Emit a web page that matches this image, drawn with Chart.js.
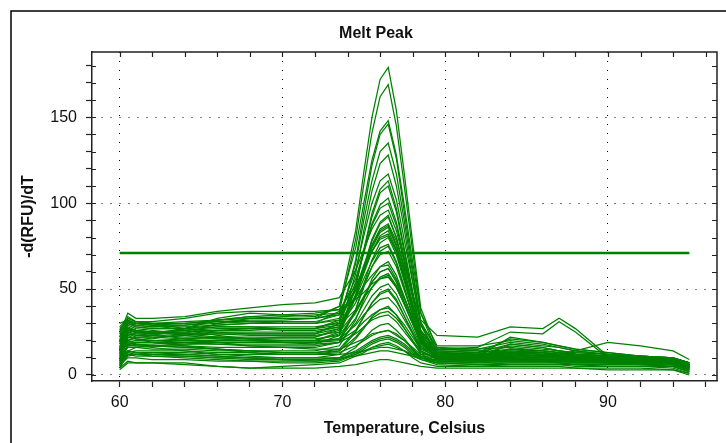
<!DOCTYPE html>
<html>
<head>
<meta charset="utf-8">
<title>Melt Peak</title>
<script src="https://cdn.jsdelivr.net/npm/chart.js@4.4.1/dist/chart.umd.min.js"></script>
<style>
  html, body { margin: 0; padding: 0; background: #fff; }
  #wrap { width: 726px; height: 443px; }
</style>
</head>
<body>
<div id="wrap"><canvas id="meltChart" width="726" height="443"></canvas></div>
<script>
// temperatures (Celsius) where each curve is sampled
const temps = [60, 60.5, 61, 62, 64, 66, 68, 70, 72, 73.5, 74.5, 75, 75.5, 76, 76.5, 77, 77.5, 78, 78.5, 79.5, 82, 84, 86, 87, 88, 90, 92, 94, 95];

// -d(RFU)/dT per well
const meltCurves = [
  [22,34,31,30,30,31,32,32,33, 40,84,118,150,172,179,154,116,77,39,15, 14,13,12,12,11,10,9,8,6],
  [15,30,28,27,27,29,30,30,30, 37,79,111,141,162,169,145,109,72,36,13, 12,12,11,11,10,10,9,8,5],
  [12,26,25,24,27,33,36,35,34, 40,74,100,125,142,148,128,98,66,36,17, 17,20,18,16,14,12,10,9,6],
  [8,20,22,22,23,24,24,24,24, 30,67,95,122,140,146,126,94,62,30,11, 10,10,9,9,9,8,8,7,4],
  [18,28,26,25,25,26,27,27,27, 32,65,90,113,130,135,117,89,59,31,14, 13,15,14,13,12,11,10,9,7],
  [10,24,23,22,21,21,21,22,22, 27,59,84,107,123,128,110,84,55,29,12, 11,12,11,10,10,9,8,8,5],
  [20,32,30,29,29,30,31,31,31, 35,61,81,100,113,117,102,78,54,30,16, 15,16,14,13,12,11,10,9,7],
  [6,18,19,19,18,18,18,18,18, 23,51,73,94,108,113,97,73,49,25,10, 9,9,8,8,8,7,7,6,3],
  [14,26,25,25,26,28,28,27,27, 31,54,71,88,99,103,89,68,47,26,13, 12,13,12,11,11,10,9,8,6],
  [24,36,33,33,34,37,39,41,42, 45,61,73,85,93,96,84,65,45,26,15, 14,13,13,12,12,11,10,9,7],
  [12,22,21,20,20,20,20,20,20, 24,45,62,78,88,92,80,61,41,22,11, 10,11,10,10,9,9,8,7,4],
  [16,31,29,28,29,31,31,30,30, 33,50,64,76,85,88,78,63,47,32,23, 22,28,27,33,27,11,10,9,6],
  [9,23,24,24,24,25,25,25,25, 28,46,59,72,81,84,73,56,38,21,11, 10,10,9,9,9,8,8,7,4],
  [5,14,16,17,17,16,16,16,16, 19,38,53,67,77,80,70,54,37,21,12, 11,12,11,11,10,9,9,8,5],
  [22,30,28,27,27,28,28,28,28, 30,45,56,66,74,76,66,51,34,19,10, 9,9,9,8,8,8,7,7,4],
  [16,20,18,17,16,15,14,14,14, 17,32,44,56,63,66,58,45,33,20,13, 12,14,13,12,12,11,10,9,6],
  [20,27,26,25,24,24,23,23,23, 25,37,46,54,60,62,54,42,30,18,11, 10,11,10,10,10,9,8,8,5],
  [26,33,31,31,33,36,37,37,37, 38,44,48,53,56,57,51,41,30,20,15, 16,25,24,31,25,10,9,8,6],
  [4,12,13,13,13,12,12,12,12, 14,25,34,42,48,50,44,34,24,14,9, 8,8,8,8,7,7,7,6,3],
  [26,29,27,26,24,22,21,20,20, 21,29,35,40,44,45,40,32,24,16,12, 11,22,19,17,15,13,11,10,7],
  [14,18,17,16,14,12,11,10,10, 12,21,27,34,38,40,35,27,20,12,8, 7,8,8,7,7,7,6,6,3],
  [30,32,30,29,26,23,21,19,18, 19,24,28,32,34,35,31,25,19,13,10, 10,18,16,14,12,11,10,9,6],
  [10,14,13,12,11,10,9,9,9, 10,16,21,26,29,30,26,21,15,10,7, 6,6,6,6,6,5,5,5,2],
  [24,27,25,24,21,19,17,16,15, 15,19,21,24,25,26,24,20,16,12,11, 10,15,13,12,14,19,17,14,9],
  [6,10,10,9,9,8,8,8,8, 9,13,16,19,21,22,20,17,13,10,8, 8,9,9,9,8,8,8,7,4],
  [4,8,7,7,7,5,4,5,6, 7,11,13,16,18,19,17,14,10,7,5, 5,5,5,5,4,4,4,3,1],
  [8,12,11,11,11,10,10,10,10, 10,11,12,13,14,14,13,12,11,10,9, 9,10,9,9,9,8,8,7,4],
  [18,24,22,21,24,30,33,34,35, 36,45,52,58,63,64,56,45,32,21,14, 13,21,19,17,15,13,11,10,7],
  [16,25,23,23,27,32,34,33,33, 36,56,72,87,97,100,87,66,45,24,12, 11,12,11,11,10,10,9,8,5],
  [28,33,31,30,27,25,24,24,24, 27,46,60,74,83,86,75,57,39,21,11, 10,11,10,10,10,9,8,8,5],
  [11,21,20,20,21,22,22,22,22, 26,47,63,79,89,93,80,61,41,22,10, 9,10,9,9,9,8,8,7,4],
  [13,26,25,25,26,27,27,26,26, 28,42,53,63,70,72,63,49,35,21,13, 12,13,12,12,11,10,9,9,6],
  [3,7,7,7,6,5,4,4,4, 5,6,7,8,9,9,8,7,6,5,4, 4,4,4,4,4,3,3,3,0],
  [20,23,21,19,17,15,13,12,12, 12,13,14,15,16,16,15,14,12,11,10, 10,11,10,10,10,9,9,8,5],
  [7,17,18,18,19,20,20,20,20, 25,52,72,92,106,110,95,71,47,23,9, 8,9,8,8,8,7,7,6,3],
  [19,31,30,30,31,32,33,33,33, 35,50,61,72,80,82,72,56,39,23,14, 13,18,16,14,13,12,11,10,7],
  [5,11,12,12,12,11,10,9,8, 9,12,14,16,17,18,16,14,11,9,7, 7,7,7,7,6,6,6,5,2],
  [13,19,18,17,16,15,14,13,13, 14,22,28,33,36,37,33,27,20,14,10, 10,12,11,11,10,10,9,8,5],
  [17,22,21,20,19,18,17,17,17, 19,30,38,46,51,53,47,37,27,17,11, 11,13,12,11,11,10,9,9,6],
  [9,16,16,15,15,14,14,13,13, 15,26,34,42,47,49,43,34,25,16,10, 9,10,9,9,9,8,8,7,4],
  [21,26,25,25,25,26,26,27,27, 29,38,45,51,56,58,51,41,30,19,12, 12,17,15,14,13,12,11,10,7],
  [7,13,14,14,14,13,13,12,12, 13,17,20,23,25,26,23,20,15,11,8, 8,8,8,8,7,7,7,6,3],
  [11,17,17,17,18,19,19,19,19, 21,33,42,51,57,59,52,41,30,19,11, 10,11,10,10,10,9,9,8,5],
  [25,30,29,28,28,29,30,30,30, 32,49,62,75,84,87,76,59,41,24,13, 12,14,13,12,12,11,10,9,6],
  [8,14,13,13,12,11,10,9,9, 10,14,17,20,22,23,21,18,14,10,7, 6,7,7,7,6,6,6,5,2],
  [19,25,24,23,22,22,21,21,21, 23,36,45,54,60,62,55,44,32,20,12, 11,12,11,11,11,10,9,9,6],
  [14,20,19,19,19,19,19,19,19, 21,38,51,63,72,75,65,50,35,20,10, 9,10,9,9,9,8,8,7,4],
  [23,27,26,25,23,21,20,19,19, 20,26,31,35,38,39,35,29,22,15,11, 11,15,14,13,12,11,10,9,6],
  [6,12,12,11,10,9,8,7,7, 8,12,15,18,20,21,19,16,12,9,6, 5,6,6,6,5,5,5,4,1],
  [27,31,30,29,30,32,34,35,36, 38,52,62,72,79,81,72,57,41,25,15, 15,19,17,16,14,12,11,10,7]
];

// threshold line
const thresholdTemps = [60, 95];
const thresholdValue = 71;

// axes
const xTicks = [60, 62, 64, 66, 68, 70, 72, 74, 76, 78, 80, 82, 84, 86, 88, 90, 92, 94, 96];
const xLabelled = [60, 70, 80, 90];
const yTicks = [0, 10, 20, 30, 40, 50, 60, 70, 80, 90, 100, 110, 120, 130, 140, 150, 160, 170, 180];
const yLabelled = [0, 50, 100, 150];

const GREEN = 'rgb(0,128,0)';
const FONT = '"Liberation Sans", Arial, sans-serif';

// outer frame, title, and the inward ticks on top / right
const framePlugin = {
  id: 'framePlugin',
  beforeDraw(chart) {
    const c = chart.ctx;
    c.save();
    c.fillStyle = '#fff';
    c.fillRect(0, 0, chart.width, chart.height);
    c.strokeStyle = '#000';
    c.lineWidth = 1.5;
    c.beginPath();
    c.moveTo(11, chart.height);
    c.lineTo(11, 11);
    c.lineTo(chart.width, 11);
    c.stroke();
    c.fillStyle = '#111';
    c.font = 'bold 16px ' + FONT;
    c.textAlign = 'center';
    c.textBaseline = 'middle';
    c.fillText('Melt Peak', 376, 34);
    c.restore();
  },
  afterDraw(chart) {
    const { ctx: c, chartArea: a, scales } = chart;
    c.save();
    c.strokeStyle = '#222';
    c.lineWidth = 1.5;
    c.beginPath();
    c.moveTo(a.left, a.top);
    c.lineTo(a.right, a.top);
    c.lineTo(a.right, a.bottom);
    c.stroke();
    c.lineWidth = 1.2;
    c.beginPath();
    xTicks.forEach(v => {
      const px = Math.round(scales.x.getPixelForValue(v)) + 0.5;
      c.moveTo(px, a.top);
      c.lineTo(px, a.top + 5);
    });
    yTicks.forEach(v => {
      const py = Math.round(scales.y.getPixelForValue(v)) + 0.5;
      c.moveTo(a.right, py);
      c.lineTo(a.right - 5, py);
      c.moveTo(a.left, py);
      c.lineTo(a.left + 4, py);
    });
    c.stroke();
    c.restore();
  }
};

const datasets = meltCurves.map(row => ({
  data: temps.map((t, i) => ({ x: t, y: row[i] })),
  borderColor: GREEN,
  borderWidth: 1.25,
  pointRadius: 0,
  tension: 0,
  fill: false
}));
datasets.push({
  data: thresholdTemps.map(t => ({ x: t, y: thresholdValue })),
  borderColor: GREEN,
  borderWidth: 2.5,
  pointRadius: 0,
  fill: false
});

new Chart(document.getElementById('meltChart'), {
  type: 'line',
  data: { datasets },
  plugins: [framePlugin],
  options: {
    responsive: false,
    animation: false,
    layout: { padding: { top: 52, right: 9, bottom: 0, left: 0 } },
    plugins: {
      legend: { display: false },
      tooltip: { enabled: false },
      title: { display: false }
    },
    scales: {
      x: {
        type: 'linear',
        min: 58.3,
        max: 96.7,
        afterFit: s => { s.height = 62; },
        afterBuildTicks: s => { s.ticks = xTicks.map(v => ({ value: v })); },
        ticks: {
          autoSkip: false,
          maxRotation: 0,
          padding: 6,
          color: '#111',
          font: { family: FONT, size: 16 },
          callback: v => (xLabelled.includes(v) ? String(v) : '')
        },
        grid: {
          color: c => (c.tick && xLabelled.includes(c.tick.value) ? '#000' : 'rgba(0,0,0,0)'),
          lineWidth: 1,
          tickLength: 6,
          tickColor: '#222',
          tickWidth: 1.2
        },
        border: { display: true, color: '#222', width: 1.5, dash: [1, 8] },
        title: {
          display: true,
          text: 'Temperature, Celsius',
          color: '#111',
          font: { family: FONT, size: 16, weight: 'bold' },
          padding: { top: 0, bottom: 5 }
        }
      },
      y: {
        type: 'linear',
        min: -3.5,
        max: 188,
        afterFit: s => { s.width = 92; },
        afterBuildTicks: s => { s.ticks = yTicks.map(v => ({ value: v })); },
        ticks: {
          autoSkip: false,
          padding: 9,
          color: '#111',
          font: { family: FONT, size: 16 },
          callback: v => (yLabelled.includes(v) ? String(v) : '')
        },
        grid: {
          color: c => (c.tick && yLabelled.includes(c.tick.value) ? '#000' : 'rgba(0,0,0,0)'),
          lineWidth: 1,
          tickLength: 6,
          tickColor: '#222',
          tickWidth: 1.2
        },
        border: { display: true, color: '#222', width: 1.5, dash: [1, 8] },
        title: {
          display: true,
          text: '-d(RFU)/dT',
          color: '#111',
          font: { family: FONT, size: 16, weight: 'bold' },
          padding: { top: 19, bottom: 0 }
        }
      }
    }
  }
});
</script>
</body>
</html>
